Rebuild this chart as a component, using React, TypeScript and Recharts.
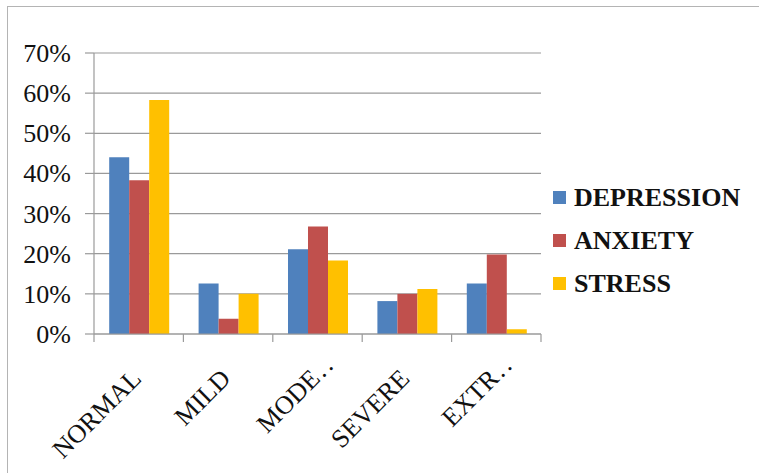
import React from "react";
import {
  BarChart,
  Bar,
  XAxis,
  YAxis,
  CartesianGrid,
  Legend,
} from "recharts";

// Severity levels (x axis) and the share of respondents per scale
const categories = ["NORMAL", "MILD", "MODE…", "SEVERE", "EXTR…"];
const depression = [0.44, 0.126, 0.211, 0.082, 0.126];
const anxiety = [0.383, 0.038, 0.268, 0.1, 0.198];
const stress = [0.583, 0.1, 0.183, 0.112, 0.012];
const yTicks = [0, 0.1, 0.2, 0.3, 0.4, 0.5, 0.6, 0.7];

const series = [
  { key: "depression", name: "DEPRESSION", color: "#4F81BD" },
  { key: "anxiety", name: "ANXIETY", color: "#C0504D" },
  { key: "stress", name: "STRESS", color: "#FFC000" },
];

const data = categories.map((c, i) => ({
  category: c,
  depression: depression[i],
  anxiety: anxiety[i],
  stress: stress[i],
}));

const FONT = "Liberation Serif";
const GRID = "#9a9a9a";

// Rotated category label plus tick marks on the band edges (Excel style)
function CategoryTick({ x, y, payload }: any) {
  const value: string = payload.value;
  const half: number = payload.offset || 0;
  const last = payload.index === categories.length - 1;
  const cut = value.endsWith("…");
  const main = cut ? value.slice(0, -1) : value;
  const ax = x + 4;
  const ay = y + 46;
  return (
    <g>
      <line x1={x - half} x2={x - half} y1={y} y2={y + 8} stroke={GRID} strokeWidth={1.2} />
      {last && <line x1={x + half} x2={x + half} y1={y} y2={y + 8} stroke={GRID} strokeWidth={1.2} />}
      <g transform={`rotate(-45, ${ax}, ${ay})`} style={{ fontFamily: FONT }}>
        <text x={ax} y={ay} textAnchor="end" fontSize={26} fill="#111">
          {main}
        </text>
        {cut && (
          <text x={ax + 2} y={ay} textAnchor="start" fontSize={26} fill="#111" letterSpacing={3}>
            ..
          </text>
        )}
      </g>
    </g>
  );
}

function PercentTick({ x, y, payload }: any) {
  return (
    <text x={x} y={y + 9} textAnchor="end" fontSize={26} fill="#111" style={{ fontFamily: FONT }}>
      {`${Math.round(payload.value * 100)}%`}
    </text>
  );
}

function LegendBox() {
  return (
    <div style={{ fontFamily: FONT }}>
      {series.map((s) => (
        <div key={s.key} style={{ display: "flex", alignItems: "center", height: 43 }}>
          <span style={{ width: 13, height: 13, background: s.color, marginRight: 8 }} />
          <span style={{ fontSize: 26, fontWeight: "bold", color: "#111" }}>{s.name}</span>
        </div>
      ))}
    </div>
  );
}

export default function App() {
  return (
    <div style={{ position: "relative", width: 759, height: 473, background: "#fff", overflow: "hidden", fontFamily: FONT }}>
      <style>{`body { margin: 0; }`}</style>
      <div
        style={{
          position: "absolute",
          left: 7,
          top: 6,
          width: 800,
          height: 500,
          borderLeft: "1px solid #b4b4b4",
          borderTop: "1px solid #b4b4b4",
        }}
      />
      <BarChart
        width={759}
        height={473}
        data={data}
        margin={{ top: 53, right: 218, bottom: 138, left: 0 }}
        barCategoryGap="17%"
        barGap={0}
      >
        <CartesianGrid vertical={false} stroke={GRID} strokeWidth={1.2} />
        <XAxis
          dataKey="category"
          height={1}
          tickSize={0}
          tickMargin={0}
          tickLine={false}
          axisLine={{ stroke: GRID, strokeWidth: 1.2 }}
          interval={0}
          tick={<CategoryTick />}
        />
        <YAxis
          width={94}
          domain={[0, 0.7]}
          ticks={yTicks}
          tickSize={9}
          tickMargin={14}
          tick={<PercentTick />}
          tickLine={{ stroke: GRID, strokeWidth: 1.2 }}
          axisLine={{ stroke: GRID, strokeWidth: 1.2 }}
        />
        <Legend
          layout="vertical"
          align="center"
          verticalAlign="middle"
          wrapperStyle={{ left: 553, top: 176, width: 200 }}
          content={<LegendBox />}
        />
        {series.map((s) => (
          <Bar
            key={s.key}
            dataKey={s.key}
            name={s.name}
            fill={s.color}
            isAnimationActive={false}
          />
        ))}
      </BarChart>
    </div>
  );
}
